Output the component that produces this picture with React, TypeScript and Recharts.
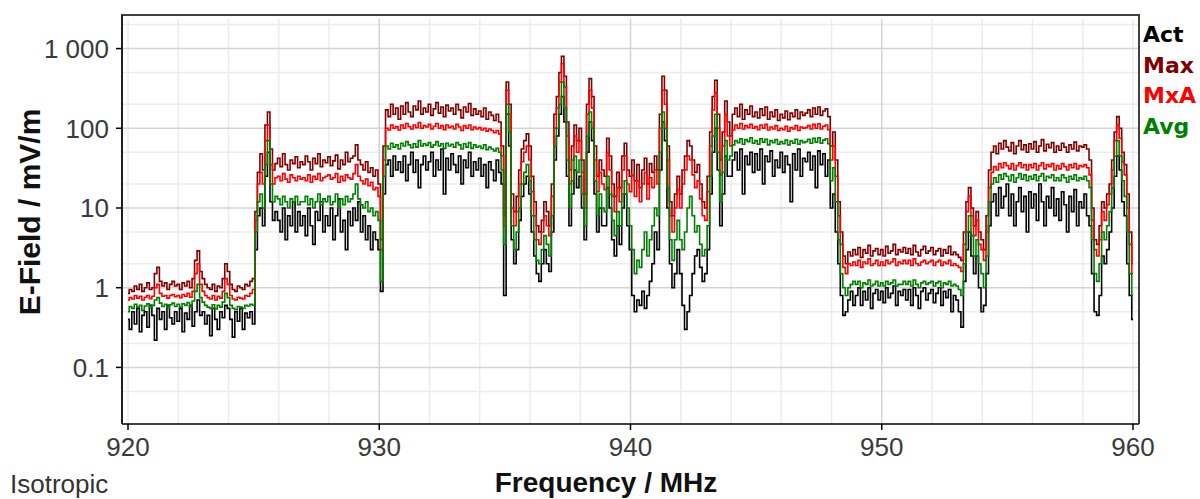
import React from 'react';
import { LineChart, Line, XAxis, YAxis, CartesianGrid } from 'recharts';

// Field strength (mV/m), one value per 0.1 MHz from 920.0 to 960.0 MHz
const ACT = [
  0.4,0.3,0.5,0.35,0.55,0.28,0.45,0.5,0.32,0.6,
  0.45,0.22,0.55,0.4,0.5,0.3,0.6,0.42,0.35,0.5,
  0.38,0.55,0.28,0.48,0.4,0.6,0.33,0.5,0.7,0.45,
  0.5,0.35,0.45,0.25,0.55,0.4,0.3,0.5,0.42,0.6,
  0.55,0.4,0.24,0.5,0.38,0.55,0.3,0.48,0.42,0.5,
  0.35,3,8,10,6,25,50,12,7,9,
  7,5,10,4,8,6,12,5,9,6,
  8,4.5,10,6,3.5,9,7,12,5,8,
  6,10,4,8,13,5,7,3,9,6,
  10,7,12,5,8,4,6,3,5,4,
  3,0.9,15,35,40,25,45,30,38,28,
  45,22,35,50,28,40,18,35,45,30,
  38,50,25,40,30,55,15,42,30,48,
  35,28,45,20,40,32,50,25,38,30,
  42,25,35,18,38,30,22,40,28,20,
  0.8,150,60,4,2,3,7,14,20,25,
  15,5,2.5,1.5,1.2,2,3,2,1.6,5,
  40,80,150,250,120,25,6,15,30,18,
  25,10,4,50,120,70,15,5,10,6,
  6,18,10,4,2.5,6,3.5,10,15,6,
  3,0.8,0.5,0.7,0.6,0.9,0.55,0.8,1.2,2,
  5,3,30,120,70,10,2,1,1.5,3,
  1.5,0.6,0.3,0.5,0.8,1.5,2.5,3,1.8,1.2,
  1.5,3,15,50,100,30,6,15,45,25,
  25,40,50,30,55,15,45,35,50,28,
  48,30,55,20,45,38,52,25,40,32,
  50,28,45,35,12,48,30,55,25,42,
  38,50,30,45,18,52,35,48,25,40,
  10,15,5,2,0.8,0.45,0.5,0.7,0.9,0.6,
  0.8,1.0,0.6,0.9,0.7,1.0,0.55,0.85,0.95,0.7,
  0.9,0.65,1.0,0.75,0.85,1.05,0.6,0.9,0.8,0.95,
  0.7,0.95,0.6,1.0,0.8,0.55,0.9,1.0,0.7,0.85,
  0.95,0.65,0.85,1.0,0.6,0.9,0.75,0.95,0.5,0.8,
  0.7,0.5,0.32,1.2,3,5,2.5,1.5,2.5,1,
  0.5,0.6,1.5,6,12,15,8,18,10,14,
  20,8,15,6,12,18,9,14,5,16,
  10,15,7,20,12,6,14,10,18,8,
  13,7,16,11,5,14,9,17,6,12,
  10,15,8,6,1.5,0.5,0.45,0.8,2.5,2,
  3,5,10,25,45,30,12,8,2,0.8,
  0.4,
];

const MAX = [
  0.85,0.95,0.9,1.05,0.95,1.1,0.9,1.0,1.15,0.95,
  1.0,1.5,1.8,1.2,1.05,1.15,0.95,1.1,1.2,1.05,
  1.1,0.95,1.15,1.05,1.2,1.0,1.3,2.2,2.9,1.6,
  1.3,1.1,1.0,0.95,1.1,0.9,1.05,1.0,1.3,2.0,
  1.6,1.1,0.95,0.9,1.05,1.0,0.95,1.1,1.05,1.2,
  1.3,9,28,48,30,110,160,55,30,36,
  42,33,48,35,30,40,36,44,32,38,
  35,45,38,30,42,36,48,33,40,37,
  44,34,39,46,31,40,35,50,38,42,
  45,62,40,35,30,38,28,32,25,30,
  20,4,60,170,140,200,150,180,130,190,
  150,210,160,140,190,170,220,150,180,160,
  200,145,175,210,155,185,140,195,165,180,
  150,200,170,135,185,160,205,145,175,150,
  165,140,180,130,160,145,125,150,120,60,
  8,380,200,15,9,14,30,55,70,85,
  60,25,12,6,5,7,12,9,6,20,
  150,250,500,800,450,120,30,60,110,70,
  100,40,15,200,420,250,60,25,40,30,
  25,75,45,20,14,28,18,45,65,30,
  25,40,22,35,18,30,42,20,36,28,
  45,30,150,450,300,60,12,8,15,25,
  15,30,45,70,60,40,28,35,20,12,
  10,25,90,250,400,150,40,90,220,120,
  80,150,180,140,200,130,170,150,190,140,
  160,135,175,145,185,130,160,140,170,125,
  150,135,165,128,155,140,170,132,160,145,
  155,170,140,180,150,185,145,165,175,140,
  60,90,40,12,5,2.5,2.0,2.8,2.5,3.0,
  2.6,3.2,2.4,3.0,2.7,3.4,2.5,2.9,3.1,2.6,
  3.0,2.5,3.3,2.7,2.9,3.5,2.6,3.0,2.8,3.2,
  2.7,3.1,2.6,3.4,2.8,2.5,3.0,3.3,2.7,2.9,
  3.2,2.6,2.9,3.1,2.5,3.0,2.7,3.3,2.6,2.8,
  2.6,2.4,2.2,5,12,18,10,6,9,5,
  4,3,8,30,50,60,48,65,55,70,
  58,52,66,48,60,70,54,62,50,64,
  55,68,50,60,72,52,63,57,66,50,
  60,53,65,58,50,62,55,67,52,60,
  58,62,55,40,10,4,3.5,6,12,10,
  15,20,40,90,140,100,50,35,15,5,
  2,
];

const MXA = [
  0.7,0.75,0.72,0.8,0.74,0.78,0.7,0.76,0.8,0.73,
  0.78,1.0,1.1,0.85,0.78,0.8,0.74,0.8,0.82,0.77,
  0.8,0.75,0.82,0.78,0.85,0.76,0.9,1.5,2.0,1.1,
  0.9,0.8,0.75,0.72,0.8,0.7,0.78,0.74,0.9,1.3,
  1.1,0.8,0.72,0.7,0.76,0.74,0.72,0.8,0.78,0.85,
  0.95,7,20,28,20,70,110,35,20,24,
  25,22,27,23,21,26,24,22,25,23,
  24,22,26,21,25,23,27,22,24,25,
  26,23,24,27,21,25,22,26,24,23,
  27,35,25,22,20,23,19,21,17,18,
  14,3,40,100,95,110,100,105,95,110,
  100,115,105,98,110,102,118,100,108,104,
  112,98,106,115,100,108,96,110,102,106,
  98,112,104,94,108,100,110,96,104,98,
  102,95,100,92,98,94,88,94,85,45,
  6,300,150,10,6,9,20,38,50,60,
  40,16,8,4,3.5,5,8,6,4.5,14,
  100,180,380,650,330,80,20,40,80,50,
  70,28,10,150,300,180,40,16,28,20,
  17,50,30,14,9,18,12,30,45,20,
  16,26,14,22,12,20,28,13,24,18,
  30,20,100,300,200,40,8,5,10,17,
  10,20,30,45,40,26,18,22,13,8,
  7,16,60,170,280,100,26,60,150,80,
  60,95,110,100,115,98,108,102,112,100,
  105,96,110,100,112,95,104,98,108,94,
  100,96,106,92,102,98,108,94,104,100,
  102,108,98,112,100,114,98,106,110,96,
  40,60,25,8,3.5,1.8,1.5,2.0,1.9,2.1,
  1.9,2.2,1.8,2.1,2.0,2.3,1.9,2.0,2.2,1.9,
  2.1,1.9,2.2,2.0,2.1,2.3,1.9,2.1,2.0,2.2,
  2.0,2.2,1.9,2.3,2.0,1.9,2.1,2.2,2.0,2.1,
  2.2,1.9,2.1,2.2,1.9,2.1,2.0,2.2,1.9,2.0,
  1.9,1.8,1.6,3.5,9,14,8,4.5,7,3.5,
  3,2.2,5,18,28,33,30,36,32,37,
  34,31,36,30,34,37,32,35,30,35,
  32,36,30,34,37,31,35,33,36,30,
  34,31,36,33,30,35,32,36,31,34,
  33,35,32,26,7,3,2.5,4,9,7,
  11,15,30,70,110,75,38,26,10,3.5,
  1.5,
];

const AVG = [
  0.5,0.58,0.55,0.62,0.57,0.6,0.52,0.59,0.63,0.56,
  0.6,0.7,0.75,0.64,0.58,0.62,0.56,0.61,0.64,0.58,
  0.62,0.57,0.63,0.6,0.65,0.58,0.68,0.9,1.1,0.75,
  0.66,0.6,0.57,0.55,0.61,0.54,0.6,0.57,0.66,0.85,
  0.75,0.6,0.55,0.53,0.58,0.57,0.55,0.6,0.59,0.62,
  0.6,5,12,15,10,35,70,20,12,14,
  13,11,14,12,10,13,12,14,11,12,
  12,14,11,13,10,12,15,11,13,12,
  14,11,12,15,10,13,11,14,12,13,
  15,20,13,11,10,12,9,10,8,9,
  7,1.2,25,60,55,65,58,62,55,65,
  60,68,62,57,64,58,70,60,64,61,
  66,58,62,68,60,64,56,65,60,63,
  58,66,62,55,64,58,66,56,62,58,
  60,56,62,54,58,55,52,56,50,30,
  3.5,200,90,6,3,5,10,20,28,35,
  22,8,4,2.2,2,3,4.5,3.5,2.5,8,
  60,100,200,380,180,40,10,22,45,28,
  40,15,6,80,160,100,22,8,15,10,
  9,25,15,7,4.5,9,6,15,22,10,
  6,3,1.5,2.2,1.8,3,5,2.5,4,6,
  10,8,50,160,100,18,4,2.2,4,7,
  4,3,5,10,14,8,5,6,3.5,2.5,
  3,6,25,80,150,50,12,28,70,40,
  45,62,70,66,74,63,72,68,76,65,
  70,63,74,67,73,62,70,66,72,63,
  68,64,71,62,69,65,73,63,70,66,
  68,73,65,75,67,76,65,71,74,64,
  22,32,12,4,1.5,1.0,0.8,1.0,1.1,1.2,
  1.1,1.2,1.0,1.15,1.1,1.25,1.05,1.1,1.2,1.05,
  1.15,1.05,1.2,1.1,1.15,1.25,1.05,1.1,1.1,1.2,
  1.1,1.2,1.05,1.25,1.1,1.0,1.15,1.2,1.1,1.15,
  1.2,1.05,1.15,1.2,1.0,1.15,1.1,1.2,1.05,1.1,
  1.05,0.95,0.8,2,5,8,4.5,2.5,4,2,
  1.5,1.0,2.5,12,20,24,21,26,23,27,
  25,22,26,21,24,27,23,26,22,25,
  23,26,22,25,27,22,25,24,26,22,
  24,22,26,24,21,25,23,26,22,24,
  23,25,22,18,4,1.5,1.2,2,5,4,
  6,9,18,45,70,45,22,14,5,1.5,
  0.8,
];

const FREQ = ACT.map((_, i) => Math.round((920 + i * 0.1) * 10) / 10);

const X_TICKS = [920, 930, 940, 950, 960];
const Y_TICKS = [0.1, 1, 10, 100, 1000];
const X_GRID_MINOR = [920, 922, 924, 926, 928, 932, 934, 936, 938, 942, 944, 946, 948, 952, 954, 956, 958, 960];
const X_GRID_MAJOR = [930, 940, 950];
const Y_GRID_MINOR = [0.05, 0.2, 0.5, 2, 5, 20, 50, 200, 500, 2000];
const Y_GRID_MAJOR = [0.1, 1, 10, 100, 1000];

const LEGEND = [
  { name: 'Act', color: '#000000' },
  { name: 'Max', color: '#800000' },
  { name: 'MxA', color: '#ff0000' },
  { name: 'Avg', color: '#008000' },
];

const data = FREQ.map((f, i) => ({ f, act: ACT[i], max: MAX[i], mxa: MXA[i], avg: AVG[i] }));

const FONT = '"Liberation Sans", Arial, sans-serif';

const fmtY = (v: number) => (v >= 1000 ? String(v).replace(/(\d)(?=(\d{3})+$)/g, '$1 ') : String(v));

export default function App() {
  return (
    <div style={{ position: 'absolute', left: 0, top: 0, width: 1200, height: 499, background: '#fff' }}>
      <LineChart
        width={1200}
        height={499}
        data={data}
        margin={{ top: 19, right: 61, bottom: 35, left: 0 }}
      >
        <CartesianGrid
          stroke="#ececec"
          strokeWidth={1.5}
          horizontalValues={Y_GRID_MINOR}
          verticalValues={X_GRID_MINOR}
        />
        <CartesianGrid
          stroke="#d4d4d4"
          strokeWidth={1.5}
          horizontalValues={Y_GRID_MAJOR}
          verticalValues={X_GRID_MAJOR}
        />
        <XAxis
          dataKey="f"
          type="number"
          domain={[920, 960]}
          ticks={X_TICKS}
          interval={0}
          padding={{ left: 6, right: 6 }}
          height={40}
          tickSize={6}
          tickMargin={8}
          axisLine={{ stroke: '#000', strokeWidth: 1.5 }}
          tickLine={{ stroke: '#000', strokeWidth: 1.5 }}
          tick={{ fontSize: 26, fill: '#3a3a3a', fontFamily: FONT }}
          allowDataOverflow
        />
        <YAxis
          type="number"
          scale="log"
          domain={[0.0195, 2350]}
          ticks={Y_TICKS}
          interval={0}
          width={122}
          tickSize={6}
          tickMargin={7}
          axisLine={{ stroke: '#000', strokeWidth: 1.5 }}
          tickLine={{ stroke: '#000', strokeWidth: 1.5 }}
          tick={{ fontSize: 26, fill: '#3a3a3a', fontFamily: FONT }}
          tickFormatter={fmtY}
          allowDataOverflow
        />
        <Line dataKey="act" stroke="#000000" strokeWidth={1.6} dot={false} type="step" isAnimationActive={false} />
        <Line dataKey="max" stroke="#800000" strokeWidth={1.6} dot={false} type="step" isAnimationActive={false} />
        <Line dataKey="mxa" stroke="#ff0000" strokeWidth={1.6} dot={false} type="step" isAnimationActive={false} />
        <Line dataKey="avg" stroke="#008000" strokeWidth={1.6} dot={false} type="step" isAnimationActive={false} />
      </LineChart>
      <svg
        width={1200}
        height={499}
        style={{ position: 'absolute', left: 0, top: 0, pointerEvents: 'none' }}
      >
        <line x1={121} y1={15} x2={1140} y2={15} stroke="#404040" strokeWidth={2} />
        <line x1={1139} y1={15} x2={1139} y2={424} stroke="#404040" strokeWidth={2} />
        <line x1={122} y1={15} x2={122} y2={424} stroke="#202020" strokeWidth={2} />
        <text
          transform="translate(40,212) rotate(-90)"
          textAnchor="middle"
          fontFamily={FONT}
          fontWeight="bold"
          fontSize={30}
          fill="#111"
        >
          E-Field / mV/m
        </text>
        <text x={606} y={492} textAnchor="middle" fontFamily={FONT} fontWeight="bold" fontSize={28} fill="#111">
          Frequency / MHz
        </text>
        <text x={10} y={493} fontFamily={FONT} fontSize={26} fill="#333">
          Isotropic
        </text>
        {LEGEND.map((l, i) => (
          <text
            key={l.name}
            x={1143}
            y={42 + i * 30.5}
            fontFamily='"DejaVu Sans", Verdana, sans-serif'
            fontWeight="bold"
            fontSize={22}
            fill={l.color}
          >
            {l.name}
          </text>
        ))}
      </svg>
    </div>
  );
}
